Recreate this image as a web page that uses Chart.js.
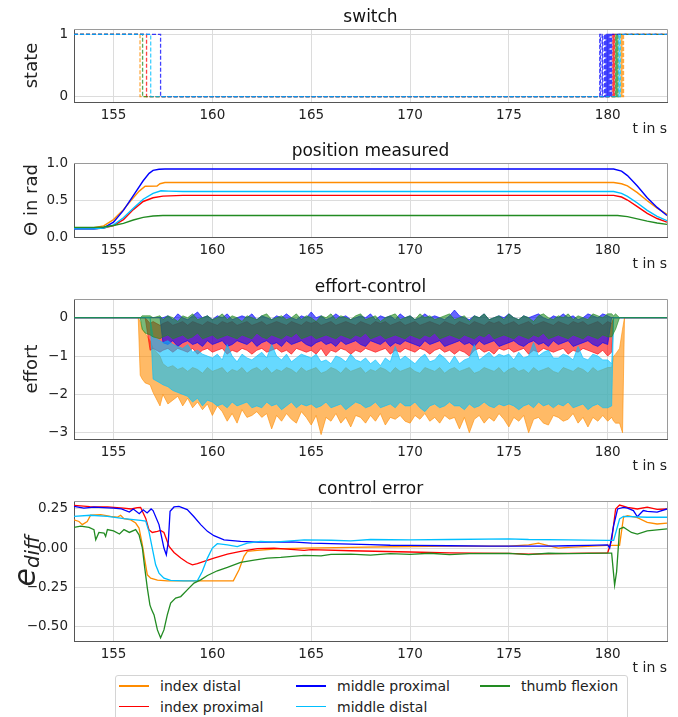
<!DOCTYPE html>
<html>
<head>
<meta charset="utf-8">
<script src="https://cdn.jsdelivr.net/npm/chart.js@4.4.1/dist/chart.umd.min.js"></script>
<style>
  body { margin: 0; background: #fff; }
  #fig { position: relative; width: 678px; height: 717px; overflow: hidden; background: #fff; font-family: "DejaVu Sans", sans-serif; }
  #fig canvas { position: absolute; left: 0; }
  #legend { position: absolute; left: 115px; top: 675px; width: 513px; height: 60px; border: 1px solid #d4d4d4; border-radius: 3px; box-sizing: border-box; background: #fff; }
  .item { position: absolute; height: 18px; line-height: 18px; font-size: 14px; color: #222; white-space: nowrap; }
  .item .sw { position: absolute; left: 0; top: 8px; width: 30px; height: 1.5px; }
  .item .tx { position: absolute; left: 41px; top: 0; }
</style>
</head>
<body>
<div id="fig">
  <canvas id="c1" width="678" height="140" style="top:0px"></canvas>
  <canvas id="c2" width="678" height="141" style="top:134px"></canvas>
  <canvas id="c3" width="678" height="207" style="top:270px"></canvas>
  <canvas id="c4" width="678" height="207" style="top:472px"></canvas>
  <div id="legend"></div>
</div>
<script>
// series
const seriesNames = ['index distal', 'index proximal', 'middle proximal', 'middle distal', 'thumb flexion'];
const seriesColors = ['#ff8c00', '#ff0000', '#0000ff', '#00bfff', '#228b22'];

// axes
const xTicks = [155, 160, 165, 170, 175, 180];
const swTicks = [0, 1];
const swTickLabels = ['0', '1'];
const posTicks = [0, 0.5, 1.0];
const posTickLabels = ['0.0', '0.5', '1.0'];
const effTicks = [-3, -2, -1, 0];
const effTickLabels = ['\u22123', '\u22122', '\u22121', '0'];
const errTicks = [-0.5, -0.25, 0, 0.25];
const errTickLabels = ['\u22120.50', '\u22120.25', '0.00', '0.25'];

// switch: time of change, state after it
const swT_indexDistal = [153, 156.34, 180.68, 180.7, 180.72, 180.74, 180.76, 180.78, 180.8, 183];
const swS_indexDistal = [1, 0, 1, 0, 1, 0, 1, 0, 1, 1];
const swT_indexProximal = [153, 156.67, 180.26, 180.28, 180.3, 180.32, 180.34, 183];
const swS_indexProximal = [1, 0, 1, 0, 1, 0, 1, 1];
const swT_middleProximal = [153, 157.38, 179.6, 179.63, 179.72, 179.75, 179.84, 179.86, 179.88, 179.9, 179.92, 179.94, 179.96, 179.98, 180.0, 180.02, 180.04, 180.06, 180.08, 180.1, 180.12, 180.14, 180.16, 180.18, 180.2, 183];
const swS_middleProximal = [1, 0, 1, 0, 1, 0, 1, 0, 1, 0, 1, 0, 1, 0, 1, 0, 1, 0, 1, 0, 1, 0, 1, 0, 1, 1];
const swT_middleDistal = [153, 156.88, 180.56, 180.6, 180.64, 183];
const swS_middleDistal = [1, 0, 1, 0, 1, 1];
const swT_thumbFlexion = [153, 156.47, 180.4, 180.42, 180.44, 180.46, 180.48, 180.5, 180.52, 183];
const swS_thumbFlexion = [1, 0, 1, 0, 1, 0, 1, 0, 1, 1];

// position measured [t, rad]
const pos_indexDistal = [[153,0.12],[154,0.125],[154.5,0.15],[155,0.235],[155.5,0.37],[156,0.53],[156.3,0.62],[156.6,0.685],[157.2,0.69],[157.35,0.72],[157.6,0.736],[180.3,0.736],[180.7,0.72],[181,0.69],[181.5,0.6],[182,0.49],[182.5,0.39],[183,0.305]];
const pos_indexProximal = [[153,0.11],[154,0.11],[154.5,0.12],[155,0.155],[155.5,0.235],[156,0.37],[156.5,0.48],[157,0.53],[157.5,0.552],[158.5,0.562],[180.3,0.562],[180.7,0.54],[181,0.5],[181.5,0.41],[182,0.32],[182.5,0.25],[183,0.2]];
const pos_middleProximal = [[153,0.11],[154,0.11],[154.5,0.125],[155,0.2],[155.5,0.36],[156,0.56],[156.5,0.76],[156.8,0.86],[157,0.9],[157.3,0.915],[157.6,0.918],[180.3,0.918],[180.7,0.89],[181,0.83],[181.5,0.69],[182,0.53],[182.5,0.4],[183,0.29]];
const pos_middleDistal = [[153,0.11],[154,0.11],[154.5,0.12],[155,0.165],[155.5,0.26],[156,0.39],[156.5,0.51],[157,0.59],[157.4,0.625],[157.8,0.62],[158.5,0.614],[180.3,0.614],[180.7,0.59],[181,0.55],[181.5,0.46],[182,0.36],[182.5,0.28],[183,0.22]];
const pos_thumbFlexion = [[153,0.13],[154,0.13],[154.5,0.135],[155,0.155],[155.5,0.185],[156,0.23],[156.5,0.265],[157,0.283],[157.5,0.29],[180.5,0.29],[181,0.275],[181.5,0.245],[182,0.215],[182.5,0.19],[183,0.17]];

// effort-control: envelope (upper / lower) of the noisy signal on a shared time grid
const effT = [153, 156.25, 156.35, 156.45, 156.6, 156.85, 157.0, 157.35,
  157.5, 157.75, 158, 158.25, 158.5, 158.75, 159, 159.25, 159.5, 159.75,
  160, 160.25, 160.5, 160.75, 161, 161.25, 161.5, 161.75, 162, 162.25,
  162.5, 162.75, 163, 163.25, 163.5, 163.75, 164, 164.25, 164.5, 164.75,
  165, 165.25, 165.5, 165.75, 166, 166.25, 166.5, 166.75, 167, 167.25,
  167.5, 167.75, 168, 168.25, 168.5, 168.75, 169, 169.25, 169.5, 169.75,
  170, 170.25, 170.5, 170.75, 171, 171.25, 171.5, 171.75, 172, 172.25,
  172.5, 172.75, 173, 173.25, 173.5, 173.75, 174, 174.25, 174.5, 174.75,
  175, 175.25, 175.5, 175.75, 176, 176.25, 176.5, 176.75, 177, 177.25,
  177.5, 177.75, 178, 178.25, 178.5, 178.75, 179, 179.25, 179.5, 179.75,
  180,
  180.2, 180.3, 180.4, 180.6, 180.75, 180.85, 183];
const effHi_indexDistal = [0, 0, -0.1, -0.3, -0.4, -0.6, -0.8, -1.0,
  -1.2, -1.3, -1.25, -1.35, -1.3, -1.4, -1.3, -1.35, -1.45, -1.3,
  -1.4, -1.35, -1.3, -1.45, -1.35, -1.4, -1.3, -1.45, -1.35, -1.3,
  -1.4, -1.3, -1.45, -1.35, -1.4, -1.3, -1.35, -1.45, -1.3, -1.4,
  -1.35, -1.3, -1.45, -1.4, -1.3, -1.35, -1.45, -1.3, -1.4, -1.35,
  -1.3, -1.45, -1.35, -1.4, -1.3, -1.35, -1.45, -1.3, -1.4, -1.35,
  -1.3, -1.4, -1.45, -1.3, -1.35, -1.4, -1.3, -1.45, -1.35, -1.3,
  -1.4, -1.35, -1.3, -1.45, -1.4, -1.3, -1.35, -1.4, -1.3, -1.45,
  -1.35, -1.3, -1.4, -1.35, -1.45, -1.3, -1.4, -1.35, -1.3, -1.4,
  -1.45, -1.3, -1.35, -1.4, -1.3, -1.35, -1.45, -1.3, -1.4, -1.35,
  -1.3,
  -1.3, -1.0, -0.95, -0.8, -0.3, 0, 0];
const effLo_indexDistal = [0, 0, -1.5, -1.6, -1.7, -1.75, -1.95, -2.3,
  -2.0, -2.25, -2.15, -2.05, -2.3, -2.1, -2.35, -2.2, -2.4, -2.25,
  -2.55, -2.3, -2.45, -2.7, -2.5, -2.75, -2.4, -2.6, -2.55, -2.45,
  -2.6, -2.5, -2.9, -2.55, -2.7, -2.5, -2.65, -2.75, -2.45, -2.6,
  -2.8, -2.55, -3.05, -2.6, -2.7, -2.5, -2.75, -2.6, -2.85, -2.55,
  -2.6, -2.75, -2.55, -2.7, -2.5, -2.8, -2.6, -2.65, -2.55, -2.7,
  -2.75, -2.55, -2.65, -2.5, -2.7, -2.6, -2.75, -2.55, -2.65, -2.6,
  -2.9, -2.6, -3.0, -2.65, -2.55, -2.75, -2.6, -2.7, -2.5, -2.65,
  -2.85, -2.6, -2.7, -2.55, -3.0, -2.65, -2.6, -2.75, -2.8, -2.55,
  -2.6, -2.7, -2.65, -2.5, -2.75, -2.6, -2.85, -2.6, -2.7, -2.55,
  -2.7,
  -2.6, -2.7, -2.75, -2.75, -3.0, 0, 0];
const effHi_indexProximal = [0, 0, 0, 0, 0, -0.15, -0.1, -0.2,
  -0.15, -0.1, -0.2, -0.15, -0.1, -0.2, -0.1, -0.15, -0.2, -0.1,
  -0.15, -0.2, -0.1, -0.15, -0.1, -0.2, -0.15, -0.1, -0.2, -0.15,
  -0.1, -0.2, -0.15, -0.1, -0.15, -0.2, -0.1, -0.15, -0.2, -0.1,
  -0.15, -0.1, -0.2, -0.15, -0.1, -0.2, -0.15, -0.1, -0.15, -0.2,
  -0.1, -0.15, -0.2, -0.1, -0.15, -0.1, -0.2, -0.15, -0.1, -0.2,
  -0.15, -0.1, -0.2, -0.15, -0.1, -0.15, -0.2, -0.1, -0.15, -0.2,
  -0.1, -0.15, -0.2, -0.1, -0.15, -0.2, -0.1, -0.15, -0.1, -0.2,
  -0.15, -0.1, -0.2, -0.15, -0.1, -0.2, -0.15, -0.1, -0.15, -0.2,
  -0.1, -0.15, -0.2, -0.1, -0.15, -0.1, -0.2, -0.15, -0.1, -0.2,
  -0.1,
  -0.15, 0, 0, 0, 0, 0, 0];
const effLo_indexProximal = [0, 0, 0, 0, 0, -0.85, -0.8, -0.9,
  -0.85, -0.8, -0.9, -0.8, -0.85, -0.9, -0.8, -0.95, -0.85, -0.8,
  -0.9, -0.85, -0.8, -0.95, -0.85, -0.9, -0.8, -0.85, -0.95, -0.85,
  -0.8, -0.9, -0.85, -0.8, -0.9, -0.85, -0.95, -0.8, -0.85, -0.9,
  -0.85, -0.95, -0.8, -1.0, -0.85, -0.9, -0.8, -0.85, -0.95, -0.85,
  -0.9, -0.8, -0.85, -0.9, -0.85, -0.8, -0.95, -0.85, -0.9, -0.8,
  -0.85, -0.9, -0.8, -0.85, -0.95, -0.85, -0.8, -0.9, -0.85, -0.95,
  -0.85, -0.9, -1.0, -0.85, -0.8, -0.9, -0.85, -0.95, -0.8, -0.85,
  -0.8, -0.9, -0.85, -0.8, -0.95, -0.85, -0.9, -0.8, -0.85, -0.9,
  -0.85, -0.8, -0.95, -0.85, -0.9, -0.8, -0.85, -0.9, -0.95, -0.85,
  -1.0,
  -0.9, 0, 0, 0, 0, 0, 0];
const effHi_middleProximal = [0, 0, 0, 0, 0, 0, 0, 0,
  0.0, 0.05, -0.05, 0.1, 0.0, -0.05, 0.05, 0.15, 0.0, 0.05,
  -0.05, 0.05, 0.0, 0.1, -0.05, 0.0, 0.05, 0.0, 0.1, -0.05,
  0.05, 0.0, -0.05, 0.05, 0.0, 0.1, 0.0, -0.05, 0.05, 0.0,
  0.15, 0.0, 0.05, -0.05, 0.0, 0.1, 0.0, 0.05, -0.05, 0.0,
  0.05, 0.0, 0.1, -0.05, 0.05, 0.0, 0.05, -0.05, 0.1, 0.0,
  0.05, -0.05, 0.0, 0.1, 0.0, 0.05, 0.0, -0.05, 0.05, 0.2,
  0.05, 0.0, -0.05, 0.05, 0.0, 0.1, -0.05, 0.0, 0.05, 0.0,
  0.1, 0.0, -0.05, 0.05, 0.0, 0.05, 0.1, 0.0, -0.05, 0.05,
  0.0, 0.1, 0.0, 0.05, -0.05, 0.0, 0.1, 0.05, 0.0, 0.1,
  0.05,
  0, 0, 0, 0, 0, 0, 0];
const effLo_middleProximal = [0, 0, 0, 0, 0, 0, 0, 0,
  -0.65, -0.7, -0.6, -0.75, -0.65, -0.6, -0.7, -0.65, -0.75, -0.6,
  -0.7, -0.65, -0.6, -0.75, -0.7, -0.6, -0.65, -0.7, -0.6, -0.75,
  -0.65, -0.6, -0.7, -0.65, -0.75, -0.6, -0.7, -0.65, -0.6, -0.7,
  -0.75, -0.65, -0.6, -0.7, -0.65, -0.75, -0.6, -0.7, -0.65, -0.6,
  -0.7, -0.75, -0.6, -0.65, -0.7, -0.6, -0.75, -0.65, -0.7, -0.6,
  -0.65, -0.7, -0.75, -0.6, -0.7, -0.65, -0.6, -0.75, -0.7, -0.65,
  -0.6, -0.7, -0.65, -0.75, -0.6, -0.7, -0.65, -0.6, -0.75, -0.7,
  -0.65, -0.6, -0.7, -0.75, -0.65, -0.6, -0.7, -0.65, -0.75, -0.6,
  -0.7, -0.65, -0.6, -0.75, -0.7, -0.65, -0.6, -0.7, -0.75, -0.65,
  -0.7,
  0, 0, 0, 0, 0, 0, 0];
const effHi_middleDistal = [0, 0, 0, 0, 0, 0, -0.5, -0.6,
  -0.65, -0.6, -0.7, -0.75, -0.8, -0.7, -0.9, -0.85, -0.95, -1.0,
  -1.05, -0.95, -1.1, -0.7, -1.0, -1.15, -0.95, -1.05, -1.1, -1.0,
  -0.9, -1.05, -0.7, -1.0, -1.1, -0.95, -1.15, -1.05, -0.95, -1.0,
  -1.05, -0.95, -1.15, -1.1, -1.2, -1.0, -1.05, -1.15, -0.95, -1.1,
  -1.15, -1.05, -1.2, -1.1, -1.25, -1.05, -1.15, -0.75, -1.1, -1.0,
  -1.1, -1.2, -1.05, -0.95, -1.15, -1.1, -0.95, -1.05, -1.2, -1.0,
  -1.2, -1.1, -1.05, -0.7, -1.1, -1.0, -0.9, -1.05, -0.95, -1.0,
  -0.95, -1.1, -0.9, -1.05, -1.0, -0.65, -1.0, -0.9, -0.85, -1.05,
  -1.05, -0.95, -1.0, -1.1, -0.75, -1.05, -1.1, -0.95, -1.0, -1.1,
  -1.1,
  -1.2, 0, 0, 0, 0, 0, 0];
const effLo_middleDistal = [0, 0, 0, 0, 0, 0, -1.6, -1.7,
  -1.75, -1.8, -1.9, -1.95, -2.0, -2.05, -2.2, -2.1, -2.3, -2.15,
  -2.2, -2.3, -2.25, -2.35, -2.2, -2.3, -2.25, -2.2, -2.35, -2.3,
  -2.35, -2.2, -2.3, -2.25, -2.4, -2.3, -2.2, -2.35, -2.25, -2.3,
  -2.25, -2.35, -2.3, -2.2, -2.35, -2.3, -2.25, -2.4, -2.3, -2.2,
  -2.25, -2.35, -2.3, -2.2, -2.35, -2.3, -2.25, -2.35, -2.2, -2.3,
  -2.3, -2.2, -2.35, -2.45, -2.3, -2.25, -2.35, -2.3, -2.2, -2.3,
  -2.3, -2.4, -2.25, -2.35, -2.3, -2.2, -2.3, -2.35, -2.25, -2.3,
  -2.25, -2.3, -2.4, -2.3, -2.25, -2.35, -2.2, -2.3, -2.25, -2.35,
  -2.25, -2.3, -2.2, -2.35, -2.3, -2.25, -2.4, -2.3, -2.25, -2.35,
  -2.35,
  -2.3, 0, 0, 0, 0, 0, 0];
const effHi_thumbFlexion = [0, 0, 0, 0.05, 0.05, 0.05, 0.0, 0.05,
  -0.05, 0.05, 0.0, -0.1, 0.05, 0.0, 0.1, -0.05, 0.0, 0.05,
  -0.05, 0.0, 0.1, -0.05, 0.05, 0.0, -0.1, 0.05, 0.0, -0.05,
  0.05, 0.1, -0.05, 0.0, 0.05, -0.05, 0.0, 0.1, -0.05, 0.05,
  0.0, -0.1, 0.05, 0.0, 0.1, -0.05, 0.05, 0.0, -0.05, 0.05,
  0.1, -0.05, 0.0, 0.05, -0.1, 0.0, 0.05, 0.1, -0.05, 0.0,
  0.05, -0.05, 0.1, 0.0, 0.05, -0.05, 0.0, 0.05, 0.1, -0.05,
  0.0, 0.05, -0.1, 0.05, 0.0, 0.1, -0.05, 0.0, 0.05, -0.05,
  0.1, 0.0, -0.05, 0.05, 0.0, -0.1, 0.05, 0.1, 0.0, -0.05,
  0.05, 0.0, 0.1, -0.05, 0.05, 0.0, -0.05, 0.1, 0.05, 0.0,
  0.1,
  0.1, 0.05, 0.1, 0, 0, 0, 0];
const effLo_thumbFlexion = [0, 0, 0, -0.3, -0.4, -0.45, -0.5, -0.55,
  -0.5, -0.45, -0.55, -0.5, -0.45, -0.55, -0.5, -0.4, -0.55, -0.5,
  -0.45, -0.55, -0.5, -0.45, -0.5, -0.55, -0.45, -0.5, -0.55, -0.4,
  -0.5, -0.55, -0.45, -0.5, -0.55, -0.45, -0.5, -0.4, -0.55, -0.5,
  -0.45, -0.55, -0.5, -0.45, -0.5, -0.55, -0.45, -0.5, -0.55, -0.45,
  -0.5, -0.4, -0.55, -0.5, -0.45, -0.55, -0.5, -0.45, -0.5, -0.55,
  -0.45, -0.5, -0.55, -0.45, -0.5, -0.4, -0.55, -0.5, -0.45, -0.5,
  -0.55, -0.45, -0.5, -0.55, -0.45, -0.5, -0.4, -0.55, -0.5, -0.45,
  -0.5, -0.55, -0.45, -0.5, -0.55, -0.45, -0.5, -0.4, -0.55, -0.5,
  -0.45, -0.5, -0.55, -0.45, -0.5, -0.55, -0.45, -0.5, -0.55, -0.45,
  -0.5,
  -0.5, -0.4, -0.3, 0, 0, 0, 0];

// control error [t, e_diff]
const err_indexDistal = [[153,0.18],[153.25,0.17],[153.42,0.15],[153.67,0.17],[153.84,0.21],[154.35,0.214],[154.85,0.203],[155.19,0.197],[155.36,0.21],[155.53,0.188],[155.87,0.18],[156.12,0.16],[156.29,0.128],[156.46,0.02],[156.58,-0.075],[156.71,-0.171],[156.88,-0.192],[157.22,-0.205],[157.72,-0.209],[159,-0.209],[160.08,-0.209],[161.06,-0.209],[161.35,-0.139],[161.6,-0.053],[161.77,-0.021],[162.27,-0.015],[163.12,-0.006],[164.64,0.0],[167,0.005],[170,0.01],[172,0.012],[175,0.013],[176,0.02],[176.5,0.032],[177,0.015],[177.5,0.0],[178,0.005],[180,0.017],[180.6,0.017],[180.8,0.197],[181,0.207],[181.5,0.195],[182,0.165],[182.5,0.154],[183,0.16]];
const err_indexProximal = [[153,0.273],[153.8,0.265],[154.7,0.263],[155.5,0.256],[155.9,0.25],[156.2,0.258],[156.37,0.26],[156.63,0.19],[156.79,0.118],[156.96,0.1],[157.22,0.107],[157.38,0.113],[157.55,0.1],[157.81,0.01],[158.06,-0.028],[158.4,-0.064],[158.73,-0.092],[158.99,-0.107],[159.24,-0.1],[159.58,-0.085],[160.08,-0.064],[160.76,-0.038],[161.43,-0.021],[162.27,-0.004],[163.12,0.0],[164.64,-0.015],[165,-0.01],[167,-0.017],[170,-0.025],[172,-0.03],[175,-0.034],[176,-0.038],[178,-0.034],[180,-0.03],[180.2,0.05],[180.4,0.25],[180.6,0.275],[181,0.26],[181.5,0.25],[182,0.262],[182.5,0.248],[183,0.25]];
const err_middleProximal = [[153,0.267],[153.5,0.255],[154,0.262],[154.5,0.258],[155,0.255],[155.4,0.25],[155.8,0.23],[156,0.25],[156.3,0.22],[156.5,0.245],[156.7,0.225],[156.9,0.25],[157,0.24],[157.3,0.15],[157.55,0.0],[157.67,-0.043],[157.77,0.04],[157.86,0.235],[158.06,0.263],[158.31,0.267],[158.73,0.246],[159.07,0.2],[159.41,0.15],[159.75,0.107],[160.08,0.079],[160.59,0.053],[161.43,0.043],[162.27,0.038],[163.12,0.038],[164,0.04],[165,0.032],[166,0.028],[167,0.025],[168,0.022],[169,0.018],[170,0.017],[172,0.015],[174,0.013],[175,0.013],[177,0.012],[178,0.015],[179,0.017],[180,0.02],[180.1,0.0],[180.3,0.144],[180.5,0.25],[180.8,0.26],[181,0.255],[181.3,0.24],[181.5,0.2],[181.8,0.24],[182,0.235],[182.5,0.23],[183,0.25]];
const err_middleDistal = [[153,0.203],[153.84,0.21],[154.69,0.203],[155.53,0.188],[156.37,0.177],[156.63,0.172],[156.79,0.107],[156.96,0.0],[157.13,-0.107],[157.3,-0.16],[157.55,-0.192],[157.89,-0.207],[158.56,-0.209],[159.24,-0.209],[159.49,-0.15],[159.75,-0.064],[160,0.0],[160.25,0.028],[160.76,0.021],[161.26,0.01],[161.77,0.032],[162.44,0.043],[163.12,0.038],[164.64,0.053],[166,0.05],[167,0.046],[168,0.055],[170,0.053],[172,0.055],[175,0.059],[176,0.055],[178,0.053],[180,0.049],[180.3,0.049],[180.6,0.186],[180.8,0.203],[182,0.197],[183,0.197]];
const err_thumbFlexion = [[153,0.132],[153.34,0.14],[153.76,0.132],[154.01,0.118],[154.1,0.053],[154.26,0.1],[154.52,0.096],[154.6,0.075],[154.69,0.118],[155,0.11],[155.3,0.09],[155.53,0.118],[155.8,0.1],[156.12,0.118],[156.29,0.085],[156.46,0.0],[156.58,-0.128],[156.71,-0.256],[156.84,-0.363],[156.93,-0.395],[157.05,-0.427],[157.22,-0.523],[157.38,-0.573],[157.55,-0.523],[157.72,-0.427],[157.89,-0.352],[158.14,-0.32],[158.4,-0.31],[158.73,-0.267],[159.07,-0.224],[159.41,-0.203],[159.75,-0.175],[160.25,-0.145],[160.76,-0.124],[161.43,-0.092],[162.11,-0.077],[162.78,-0.064],[163.46,-0.06],[164.64,-0.047],[165.5,-0.05],[166,-0.04],[167,-0.038],[168,-0.045],[169,-0.036],[170,-0.04],[171,-0.033],[172,-0.042],[173,-0.035],[175,-0.034],[176,-0.042],[177,-0.033],[178,-0.035],[180,-0.032],[180.2,-0.032],[180.35,-0.237],[180.45,-0.152],[180.6,0.123],[180.8,0.133],[181.2,0.1],[181.5,0.09],[182,0.11],[183,0.123]];

const FONT = '"DejaVu Sans", sans-serif';
const TXT = '#222';

function rgba(hex, a) {
	const n = parseInt(hex.slice(1), 16);
	return 'rgba(' + (n >> 16) + ',' + ((n >> 8) & 255) + ',' + (n & 255) + ',' + a + ')';
}
const pts = arr => arr.map(p => ({ x: p[0], y: p[1] }));
const zip = (xs, ys) => {
	if (xs.length !== ys.length) throw new Error('length mismatch ' + xs.length + ' vs ' + ys.length);
	return xs.map((x, i) => ({ x: x, y: ys[i] }));
};

// top and right spines, lighter like the reference
const framePlugin = {
	id: 'frame',
	afterDraw(chart) {
		const a = chart.chartArea, ctx = chart.ctx;
		ctx.save();
		ctx.strokeStyle = '#9a9a9a';
		ctx.lineWidth = 1;
		ctx.beginPath();
		ctx.moveTo(Math.round(a.left), Math.round(a.top) + 0.5);
		ctx.lineTo(Math.round(a.right) + 0.5, Math.round(a.top) + 0.5);
		ctx.lineTo(Math.round(a.right) + 0.5, Math.round(a.bottom));
		ctx.stroke();
		ctx.restore();
	}
};

// e_diff label with subscript
const ediffPlugin = {
	id: 'ediff',
	afterDraw(chart) {
		if (!chart.options.plugins.ediff || !chart.options.plugins.ediff.show) return;
		const a = chart.chartArea, ctx = chart.ctx;
		ctx.save();
		ctx.translate(35, (a.top + a.bottom) / 2 - 10);
		ctx.rotate(-Math.PI / 2);
		ctx.fillStyle = TXT;
		ctx.textBaseline = 'alphabetic';
		ctx.textAlign = 'left';
		const big = 'italic 30px ' + FONT, small = 'italic 20px ' + FONT;
		ctx.font = big;
		const wE = ctx.measureText('e').width;
		ctx.font = small;
		const wD = ctx.measureText('diff').width;
		const x0 = -(wE + wD) / 2;
		ctx.font = big;
		ctx.fillText('e', x0, 0);
		ctx.font = small;
		ctx.fillText('diff', x0 + wE, 4);
		ctx.restore();
	}
};

function panelOptions(p) {
	return {
		responsive: false,
		animation: false,
		events: [],
		layout: { padding: { left: 0, right: 11, top: 0, bottom: 0 } },
		elements: { point: { radius: 0 }, line: { tension: 0 } },
		plugins: {
			legend: { display: false },
			tooltip: { enabled: false },
			ediff: { show: !!p.ediff },
			title: {
				display: true, text: p.title, fullSize: false, color: '#111',
				font: { family: FONT, size: 17, weight: 'normal' },
				padding: { top: 7.6, bottom: 1 }
			}
		},
		scales: {
			x: {
				type: 'linear', min: 153, max: 183,
				afterBuildTicks: s => { s.ticks = xTicks.map(v => ({ value: v })); },
				afterFit: s => { s.height = 38; },
				grid: { color: '#dcdcdc', drawTicks: false },
				border: { color: '#555', width: 1 },
				ticks: { padding: 5, color: TXT, maxRotation: 0, font: { family: FONT, size: 13.5 } },
				title: {
					display: true, text: 't in s', align: 'end', color: TXT,
					font: { family: FONT, size: 14 }, padding: { top: 0, bottom: 2 }
				}
			},
			y: {
				type: 'linear', min: p.ymin, max: p.ymax,
				afterBuildTicks: s => { s.ticks = p.yticks.map(v => ({ value: v })); },
				afterFit: s => { s.width = 74; },
				grid: { color: '#dcdcdc', drawTicks: false },
				border: { color: '#555', width: 1 },
				ticks: {
					padding: 6, color: TXT, font: { family: FONT, size: 13.5 },
					callback: (v, i) => p.ylabels[i]
				},
				title: {
					display: !p.ediff, text: p.ylabel || '', color: TXT,
					font: { family: FONT, size: 18 }, padding: { top: 22, bottom: 0 }
				}
			}
		}
	};
}

// switch
const swData = [
	[swT_indexDistal, swS_indexDistal, 5],
	[swT_indexProximal, swS_indexProximal, 4],
	[swT_middleProximal, swS_middleProximal, 2],
	[swT_middleDistal, swS_middleDistal, 1],
	[swT_thumbFlexion, swS_thumbFlexion, 3]
];
new Chart(document.getElementById('c1'), {
	type: 'line',
	data: {
		datasets: swData.map((d, i) => ({
			label: seriesNames[i], data: zip(d[0], d[1]), order: d[2],
			stepped: true, borderColor: rgba(seriesColors[i], 0.75),
			borderWidth: 1.3, borderDash: [4, 2], fill: false
		}))
	},
	options: panelOptions({ title: 'switch', ylabel: 'state', ymin: -0.085, ymax: 1.085, yticks: swTicks, ylabels: swTickLabels }),
	plugins: [framePlugin]
});

// position measured
const posData = [pos_indexDistal, pos_indexProximal, pos_middleProximal, pos_middleDistal, pos_thumbFlexion];
new Chart(document.getElementById('c2'), {
	type: 'line',
	data: {
		datasets: posData.map((d, i) => ({
			label: seriesNames[i], data: pts(d), order: 5 - i,
			borderColor: seriesColors[i], borderWidth: 1.4, fill: false
		}))
	},
	options: panelOptions({ title: 'position measured', ylabel: '\u0398 in rad', ymin: 0, ymax: 1.0, yticks: posTicks, ylabels: posTickLabels }),
	plugins: [framePlugin]
});

// effort-control: each series is a band between its upper and lower envelope
const effHi = [effHi_indexDistal, effHi_indexProximal, effHi_middleProximal, effHi_middleDistal, effHi_thumbFlexion];
const effLo = [effLo_indexDistal, effLo_indexProximal, effLo_middleProximal, effLo_middleDistal, effLo_thumbFlexion];
const effSets = [];
seriesNames.forEach((name, i) => {
	const c = rgba(seriesColors[i], 0.6);
	effSets.push({ label: name, data: zip(effT, effHi[i]), order: 5 - i, borderColor: c, backgroundColor: c, borderWidth: 1, fill: '+1' });
	effSets.push({ label: name + ' low', data: zip(effT, effLo[i]), order: 5 - i, borderColor: c, borderWidth: 1, fill: false });
});
new Chart(document.getElementById('c3'), {
	type: 'line',
	data: { datasets: effSets },
	options: panelOptions({ title: 'effort-control', ylabel: 'effort', ymin: -3.164, ymax: 0.488, yticks: effTicks, ylabels: effTickLabels }),
	plugins: [framePlugin]
});

// control error
const errData = [err_indexDistal, err_indexProximal, err_middleProximal, err_middleDistal, err_thumbFlexion];
new Chart(document.getElementById('c4'), {
	type: 'line',
	data: {
		datasets: errData.map((d, i) => ({
			label: seriesNames[i], data: pts(d), order: 5 - i,
			borderColor: seriesColors[i], borderWidth: 1.3, fill: false
		}))
	},
	options: panelOptions({ title: 'control error', ediff: true, ymin: -0.594, ymax: 0.301, yticks: errTicks, ylabels: errTickLabels }),
	plugins: [framePlugin, ediffPlugin]
});

// legend, filled column by column like the original (3 columns)
const legend = document.getElementById('legend');
const colLeft = [3, 180, 364];
const rowTop = [1, 21.5];
seriesNames.forEach((name, i) => {
	const col = Math.floor(i / 2), row = i % 2;
	const item = document.createElement('div');
	item.className = 'item';
	item.style.left = colLeft[col] + 'px';
	item.style.top = rowTop[row] + 'px';
	item.innerHTML = '<span class="sw" style="background:' + seriesColors[i] + '"></span><span class="tx">' + name + '</span>';
	legend.appendChild(item);
});
</script>
</body>
</html>
